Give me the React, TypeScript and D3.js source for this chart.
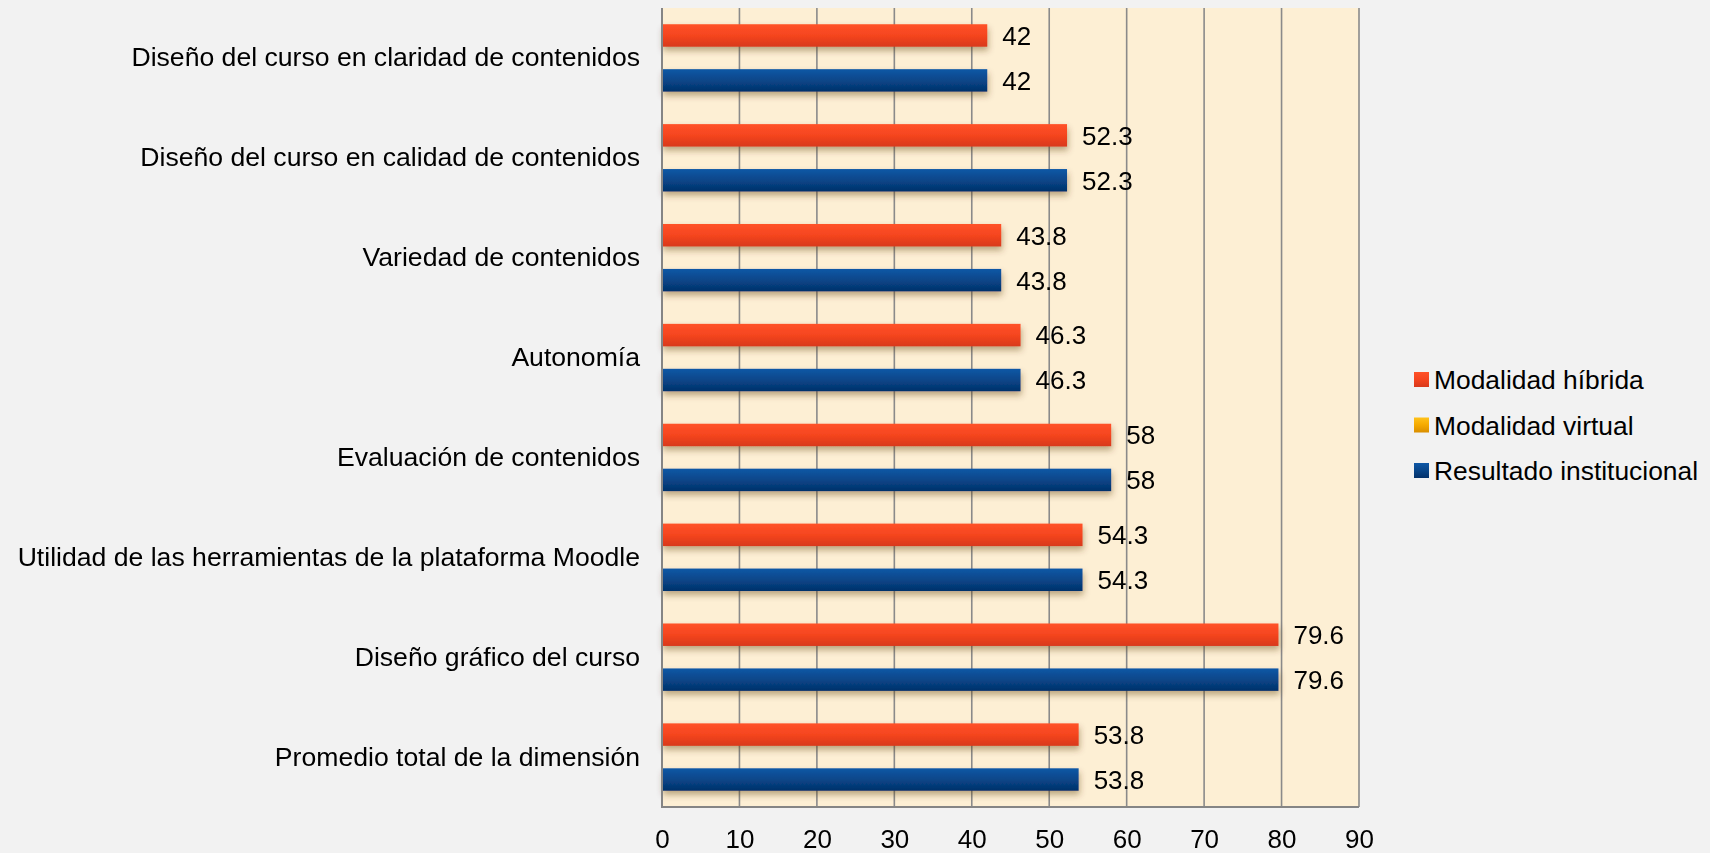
import { useEffect, useRef } from 'react';
import * as d3 from 'd3';

const categories = [
  'Diseño del curso en claridad de contenidos',
  'Diseño del curso en calidad de contenidos',
  'Variedad de contenidos',
  'Autonomía',
  'Evaluación de contenidos',
  'Utilidad de las herramientas de la plataforma Moodle',
  'Diseño gráfico del curso',
  'Promedio total de la dimensión',
];
const hibrida = [42, 52.3, 43.8, 46.3, 58, 54.3, 79.6, 53.8];
const virtual = [0, 0, 0, 0, 0, 0, 0, 0];
const institucional = [42, 52.3, 43.8, 46.3, 58, 54.3, 79.6, 53.8];
const seriesNames = ['Modalidad híbrida', 'Modalidad virtual', 'Resultado institucional'];
const xTicks = [0, 10, 20, 30, 40, 50, 60, 70, 80, 90];

const W = 1710;
const H = 853;
const FONT = '"Liberation Sans", Arial, sans-serif';

const App = () => {
  const ref = useRef<SVGSVGElement>(null);

  useEffect(() => {
    document.body.style.margin = '0';
    const svg = d3.select(ref.current);
    svg.selectAll('*').remove();

    const plot = { left: 662, right: 1359, top: 8, bottom: 807 };

    const x = d3.scaleLinear().domain([0, 90]).range([plot.left, plot.right]);
    const y = d3.scaleBand<string>()
      .domain(categories)
      .range([plot.top, plot.bottom])
      .paddingInner(0.325)
      .paddingOuter(0.1625);
    const ySub = d3.scaleBand<string>().domain(seriesNames).range([0, y.bandwidth()]);

    const defs = svg.append('defs');
    const grad = (id: string, stops: string[]) => {
      const g = defs.append('linearGradient').attr('id', id)
        .attr('x1', 0).attr('y1', 0).attr('x2', 0).attr('y2', 1);
      stops.forEach((c, i) => g.append('stop')
        .attr('offset', i / (stops.length - 1)).attr('stop-color', c));
    };
    grad('g-red', ['#ff5228', '#f5451f', '#d8391b']);
    grad('g-orange', ['#ffc21a', '#f5aa00', '#d98e00']);
    grad('g-blue', ['#0f58a6', '#094689', '#03316a']);
    const shadow = defs.append('filter').attr('id', 'shadow')
      .attr('x', '-5%').attr('y', '-30%').attr('width', '110%').attr('height', '180%');
    shadow.append('feDropShadow')
      .attr('dx', 1).attr('dy', 4).attr('stdDeviation', 3)
      .attr('flood-color', '#5a3a10').attr('flood-opacity', 0.4);

    const fills: Record<string, string> = {
      'Modalidad híbrida': 'url(#g-red)',
      'Modalidad virtual': 'url(#g-orange)',
      'Resultado institucional': 'url(#g-blue)',
    };

    svg.append('rect').attr('width', W).attr('height', H).attr('fill', '#f2f2f2');

    // plot area
    svg.append('rect')
      .attr('x', plot.left).attr('y', plot.top)
      .attr('width', plot.right - plot.left).attr('height', plot.bottom - plot.top)
      .attr('fill', '#fdefd4');

    // gridlines
    svg.append('g')
      .selectAll('line')
      .data(xTicks.slice(1))
      .enter()
      .append('line')
      .attr('x1', (d) => x(d)).attr('x2', (d) => x(d))
      .attr('y1', plot.top).attr('y2', plot.bottom)
      .attr('stroke', '#8a8a8a').attr('stroke-width', 1.6);

    // bars
    const table = categories.map((c, i) => ({
      cat: c,
      values: [
        { name: seriesNames[0], v: hibrida[i] },
        { name: seriesNames[1], v: virtual[i] },
        { name: seriesNames[2], v: institucional[i] },
      ],
    }));

    const groups = svg.append('g').attr('filter', 'url(#shadow)')
      .selectAll('g')
      .data(table)
      .enter()
      .append('g')
      .attr('transform', (d) => 'translate(0,' + (y(d.cat) || 0) + ')');

    groups.selectAll('rect')
      .data((d) => d.values.filter((s) => s.v > 0))
      .enter()
      .append('rect')
      .attr('x', x(0))
      .attr('y', (d) => ySub(d.name) || 0)
      .attr('width', (d) => x(d.v) - x(0))
      .attr('height', ySub.bandwidth())
      .attr('fill', (d) => fills[d.name]);

    // value labels
    const labels = svg.append('g');
    table.forEach((d) => {
      d.values.filter((s) => s.v > 0).forEach((s) => {
        labels.append('text')
          .attr('x', x(s.v) + 15)
          .attr('y', (y(d.cat) || 0) + (ySub(s.name) || 0) + ySub.bandwidth() / 2)
          .attr('dy', '0.36em')
          .attr('font-family', FONT)
          .attr('font-size', 26)
          .attr('fill', '#000')
          .text(String(s.v));
      });
    });

    // left and bottom border
    svg.append('path')
      .attr('d', `M${plot.left},${plot.top}V${plot.bottom}H${plot.right}`)
      .attr('fill', 'none').attr('stroke', '#858585').attr('stroke-width', 2);

    // x axis labels
    const xAxis = svg.append('g')
      .attr('transform', 'translate(0,' + plot.bottom + ')')
      .call(d3.axisBottom(x).tickValues(xTicks).tickSize(0).tickPadding(23).tickFormat(d3.format('d')));
    xAxis.select('.domain').remove();
    xAxis.selectAll('text').attr('font-family', FONT).attr('font-size', 26).attr('fill', '#000');

    // category labels
    const yAxis = svg.append('g')
      .attr('transform', 'translate(' + plot.left + ',0)')
      .call(d3.axisLeft(y).tickSize(0).tickPadding(22));
    yAxis.select('.domain').remove();
    yAxis.selectAll('text').attr('font-family', FONT).attr('font-size', 26.6).attr('fill', '#000');

    // legend
    const legend = svg.append('g').attr('transform', 'translate(1414,379.5)');
    const item = legend.selectAll('g')
      .data(seriesNames)
      .enter()
      .append('g')
      .attr('transform', (_, i) => 'translate(0,' + i * 45.5 + ')');
    item.append('rect')
      .attr('x', 0).attr('y', -7.5).attr('width', 15).attr('height', 15)
      .attr('fill', (d) => fills[d]);
    item.append('text')
      .attr('x', 20).attr('dy', '0.36em')
      .attr('font-family', FONT).attr('font-size', 26.4).attr('fill', '#000')
      .text((d) => d);
  }, []);

  return <svg ref={ref} width={W} height={H} style={{ display: 'block' }}></svg>;
};

export default App;
